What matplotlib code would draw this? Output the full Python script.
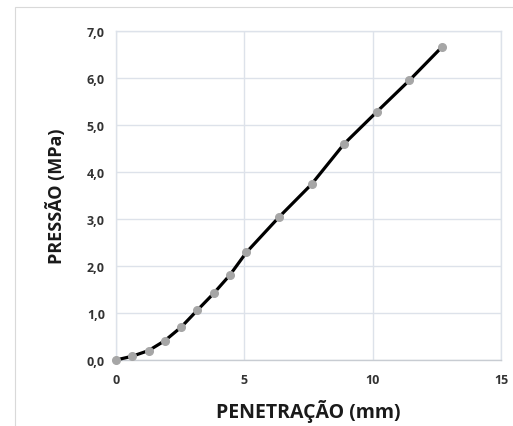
import numpy as np
import matplotlib.pyplot as plt
from matplotlib.patches import Rectangle

# CBR penetration test data
penetracao = [0, 0.63, 1.27, 1.90, 2.54, 3.17, 3.81, 4.44, 5.08, 6.35, 7.62, 8.89, 10.16, 11.43, 12.70]
pressao = [0.0, 0.08, 0.20, 0.41, 0.70, 1.06, 1.42, 1.81, 2.29, 3.04, 3.74, 4.60, 5.28, 5.95, 6.66]

x_ticks = [0, 5, 10, 15]
y_ticks = [0, 1, 2, 3, 4, 5, 6, 7]

plt.rcParams['font.family'] = ['Open Sans', 'DejaVu Sans']

fig = plt.figure(figsize=(5.13, 4.27), dpi=100)
ax = fig.add_axes([116/513, 1 - 361/427, (501 - 116)/513, (361 - 32)/427])

# outer chart frame
fig.patches.append(Rectangle((15/513, -0.1), 1.1, 1 - 8/427 + 0.1, transform=fig.transFigure,
                             fill=False, edgecolor='#d9d9d9', linewidth=0.8))

ax.plot(penetracao, pressao, color='black', linewidth=2.3, marker='o', clip_on=False,
        markersize=5.5, markerfacecolor='#a6a6a6', markeredgecolor='#a6a6a6', zorder=3)

ax.set_xlim(0, 15)
ax.set_ylim(0, 7)
ax.set_xticks(x_ticks)
ax.set_yticks(y_ticks)
ax.set_xticklabels([str(t) for t in x_ticks], fontsize=9, fontweight='bold', color='#333333')
ax.set_yticklabels([f"{t:.1f}".replace('.', ',') for t in y_ticks], fontsize=9, fontweight='bold', color='#333333')
ax.tick_params(length=0, pad=8)
ax.tick_params(axis='x', pad=9)

ax.grid(True, color='#dde2ea', linewidth=1.0)
for s in ax.spines.values():
    s.set_color('#dde2ea')
    s.set_linewidth(1.0)
ax.spines['bottom'].set_color('#c8ccd2')

ax.set_xlabel('PENETRAÇÃO (mm)', fontsize=14, fontweight='bold', color='#1a1a1a', labelpad=10)
ax.set_ylabel('PRESSÃO (MPa)', fontsize=13, fontweight='bold', color='#1a1a1a', labelpad=15)

fig.savefig('out.png', dpi=100)
